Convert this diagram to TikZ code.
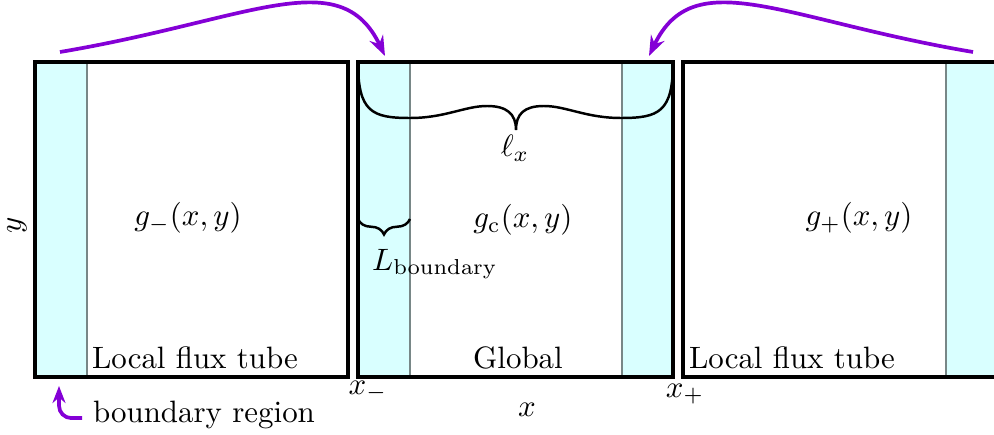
\documentclass[tikz,border=0pt]{standalone}
\usepackage{amsmath}
\usepackage{tikz}
\usetikzlibrary{arrows.meta,calc}
\usetikzlibrary{positioning}
\usetikzlibrary{decorations.pathreplacing}
\usepackage{xcolor}

\definecolor{cianoclaro}{RGB}{217,255,255}
\definecolor{roxo}{RGB}{132,0,214}
\definecolor{cinza}{RGB}{120,135,135}

\begin{document}
\begin{tikzpicture}[
    x=0.01137cm, y=-0.01137cm,
    >=Stealth,
    caixa/.style={draw=black, line width=1.05pt},
    faixa/.style={fill=cianoclaro, draw=none},
    divisa/.style={draw=cinza, thin},
    seta/.style={draw=roxo, very thick,
                 -{Stealth[length=6.5pt, width=4.8pt, inset=2.2pt]}},
    chave/.style={thick, decorate,
                  decoration={brace, mirror, amplitude=5pt}}
  ]
  \useasboundingbox (0,0) rectangle (994,435);

  % ── regiões de fronteira ────────────────────────────────────────
  \fill[faixa] (35,62)  rectangle (87,377);
  \fill[faixa] (358,62) rectangle (410,377);
  \fill[faixa] (622,62) rectangle (673,377);
  \fill[faixa] (946,62) rectangle (1010,377);

  \draw[divisa] (87,62)  -- (87,377);
  \draw[divisa] (410,62) -- (410,377);
  \draw[divisa] (622,62) -- (622,377);
  \draw[divisa] (946,62) -- (946,377);

  % ── chave grande (ell_x) ────────────────────────────────────────
  \draw[thick] (358,62) .. controls (358,112) and (372,118) .. (410,118)
    .. controls (445,118) and (465,106) .. (487,106)
    .. controls (507,106) and (516,114) .. (516,130)
    .. controls (516,114) and (524,106) .. (544,106)
    .. controls (566,106) and (586,118) .. (621,118)
    .. controls (659,118) and (673,112) .. (673,62);

  % ── chave pequena (L_boundary) ──────────────────────────────────
  \draw[chave] (358,219) -- (410,219);

  % ── caixas ──────────────────────────────────────────────────────
  \draw[caixa] (35,62)  rectangle (348,377);
  \draw[caixa] (358,62) rectangle (673,377);
  \draw[caixa] (683,62) rectangle (997,377);

  % ── textos ──────────────────────────────────────────────────────
  \node (gm) at (188,218) {$g_-(x,y)$};
  \node (gc) at (523,220) {$g_{\mathrm{c}}(x,y)$};
  \node (gp) at (859,218) {$g_+(x,y)$};

  \node[rotate=90, inner sep=1pt] (ly) at (17,225) {$y$};

  \node (tl) at (195,358) {Local flux tube};
  \node (tg) at (518,358) {Global};
  \node (tr) at (792,358) {Local flux tube};

  \node (xm) at (368,391) {$x_-$};
  \node (xp) at (685,394) {$x_+$};
  \node (xx) at (527,410) {$x$};

  \node (lx) at (515,148) {$\ell_x$};
  \node (lb) at (435,264) {$L_{\mathrm{boundary}}$};

  \node (br) at (204,415) {boundary region};

  % ── setas roxas ─────────────────────────────────────────────────
  \coordinate (ini1) at (60,52);
  \coordinate (fim1) at (385,56);
  \coordinate (ini2) at (973,52);
  \coordinate (fim2) at (649,56);
  \coordinate (alvo) at (59,386);

  \draw[seta] (ini1) .. controls (250,20) and (340,-38) .. (fim1);
  \draw[seta] (ini2) .. controls (783,20) and (694,-38) .. (fim2);

  \draw[seta, rounded corners=4pt,
        -{Stealth[length=5.5pt, width=4.2pt, inset=1.8pt]}]
    ([yshift=-1pt]br.west) -| (alvo);

\end{tikzpicture}
\end{document}
